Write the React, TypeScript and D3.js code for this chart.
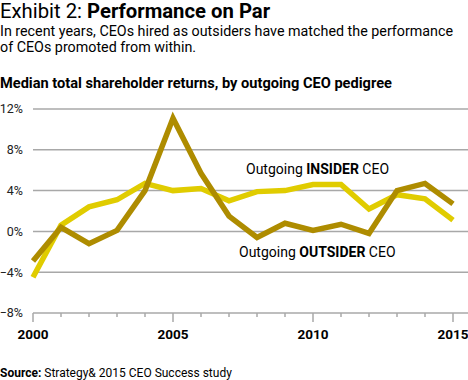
import React from "react";
import * as d3 from "d3";

const years = [2000, 2001, 2002, 2003, 2004, 2005, 2006, 2007, 2008, 2009, 2010, 2011, 2012, 2013, 2014, 2015];
const insider = [-4.5, 0.6, 2.4, 3.1, 4.7, 4.0, 4.2, 3.0, 3.9, 4.0, 4.6, 4.6, 2.2, 3.6, 3.2, 1.1];
const outsider = [-2.9, 0.4, -1.2, 0.1, 4.0, 11.1, 5.7, 1.5, -0.6, 0.8, 0.1, 0.7, -0.2, 4.0, 4.7, 2.7];
const yTicks = [-8, -4, 0, 4, 8, 12];
const xLabelYears = [2000, 2005, 2010, 2015];

const FONT = "Roboto, 'Noto Sans', sans-serif";

export default function App() {
  const W = 468, H = 380;
  const x = d3.scaleLinear().domain([2000, 2015]).range([33, 453]);
  const y = d3.scaleLinear().domain([-8, 12]).range([313, 109]);
  const line = d3
    .line<number>()
    .x((_, i) => x(years[i]))
    .y((d) => y(d));

  return (
    <div style={{ position: "absolute", left: 0, top: 0 }}>
      <svg width={W} height={H} style={{ display: "block", fontFamily: FONT }}>
        <rect width={W} height={H} fill="#fff" />
        <text x={0} y={18} fontSize={20.3} fill="#000">
          <tspan>Exhibit 2: </tspan>
          <tspan fontWeight="bold">Performance on Par</tspan>
        </text>
        <text x={0} y={36} fontSize={14.3} fill="#000">
          In recent years, CEOs hired as outsiders have matched the performance
        </text>
        <text x={0} y={52} fontSize={14.3} fill="#000">
          of CEOs promoted from within.
        </text>
        <text x={0} y={88} fontSize={14.6} fontWeight="bold" fill="#000">
          Median total shareholder returns, by outgoing CEO pedigree
        </text>

        {yTicks.map((t) => (
          <g key={t}>
            <line x1={33} x2={468} y1={y(t)} y2={y(t)} stroke="#a8a8a8" strokeWidth={1.5} />
            <text x={23} y={y(t)} dy="0.35em" textAnchor="end" fontSize={12.5} fill="#222">
              {t < 0 ? "\u2212" + Math.abs(t) : t}%
            </text>
          </g>
        ))}

        {years.map((yr) => {
          const major = xLabelYears.includes(yr);
          return (
            <line
              key={yr}
              x1={x(yr)}
              x2={x(yr)}
              y1={y(-8)}
              y2={y(-8) + (major ? 9 : 4)}
              stroke="#a8a8a8"
              strokeWidth={1.5}
            />
          );
        })}
        {xLabelYears.map((yr) => (
          <text key={yr} x={x(yr)} y={339} textAnchor="middle" fontSize={13.5} fontWeight="bold" fill="#000">
            {yr}
          </text>
        ))}

        <path d={line(insider) ?? ""} fill="none" stroke="#e0cc00" strokeWidth={5.5} strokeLinejoin="miter" />
        <path d={line(outsider) ?? ""} fill="none" stroke="#ae8c00" strokeWidth={5.5} strokeLinejoin="miter" />

        <text x={246} y={174} fontSize={14} fill="#000">
          <tspan>Outgoing </tspan>
          <tspan fontWeight="bold">INSIDER</tspan>
          <tspan> CEO</tspan>
        </text>
        <text x={239} y={257} fontSize={14} fill="#000">
          <tspan>Outgoing </tspan>
          <tspan fontWeight="bold">OUTSIDER</tspan>
          <tspan> CEO</tspan>
        </text>

        <text x={0} y={377} fontSize={12} fill="#000">
          <tspan fontWeight="bold">Source:</tspan>
          <tspan> Strategy&amp; 2015 CEO Success study</tspan>
        </text>
      </svg>
    </div>
  );
}
